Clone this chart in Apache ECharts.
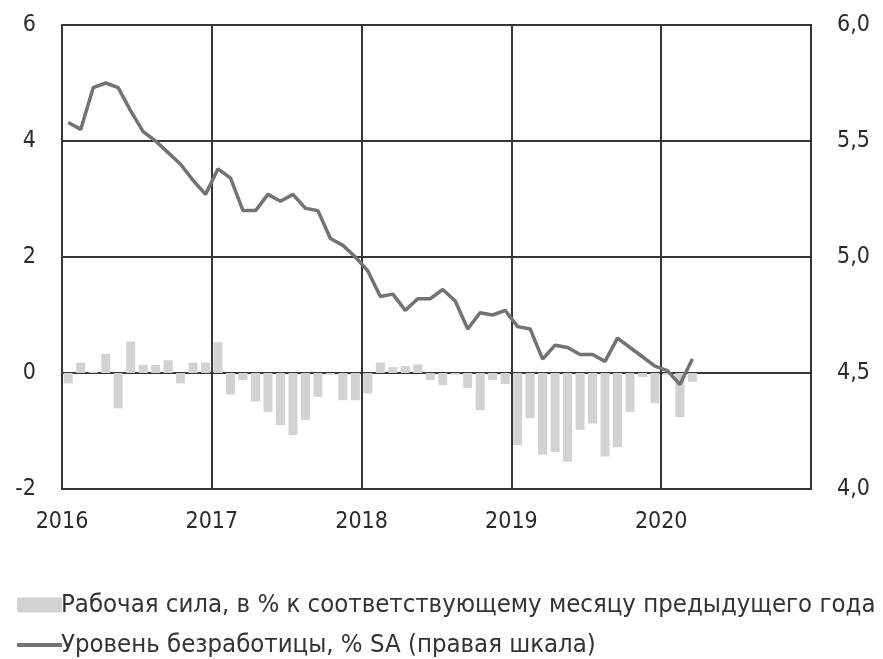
<!DOCTYPE html>
<html>
<head>
<meta charset="utf-8">
<script src="https://cdn.jsdelivr.net/npm/echarts@6/dist/echarts.min.js"></script>
<style>
  html, body { margin: 0; padding: 0; background: #fff; }
  #chart { width: 883px; height: 659px; }
</style>
</head>
<body>
<div id="chart"></div>
<script>
// Year labels placed on the boundary of each 12-month block (Jan 2016 .. Dec 2020)
const yearLabels = ['2016', '2017', '2018', '2019', '2020'];

// Labour force, % y/y, monthly from Jan 2016 to Mar 2020
const laborForce = [
  -0.18, 0.18, 0.02, 0.33, -0.61, 0.54, 0.14, 0.14, 0.22, -0.18, 0.18, 0.18,
  0.53, -0.37, -0.12, -0.49, -0.67, -0.90, -1.07, -0.81, -0.41, -0.03, -0.47, -0.47,
  -0.35, 0.18, 0.10, 0.12, 0.15, -0.12, -0.21, -0.03, -0.26, -0.64, -0.12, -0.19,
  -1.24, -0.78, -1.41, -1.36, -1.53, -0.98, -0.87, -1.44, -1.28, -0.67, -0.07, -0.52,
  -0.03, -0.76, -0.15
];

// Unemployment rate, % SA (right scale), same months
const unemployment = [
  5.58, 5.55, 5.73, 5.75, 5.73, 5.63, 5.54, 5.50, 5.45, 5.40, 5.33, 5.27,
  5.38, 5.34, 5.20, 5.20, 5.27, 5.24, 5.27, 5.21, 5.20, 5.08, 5.05, 5.00,
  4.94, 4.83, 4.84, 4.77, 4.82, 4.82, 4.86, 4.81, 4.69, 4.76, 4.75, 4.77,
  4.70, 4.69, 4.56, 4.62, 4.61, 4.58, 4.58, 4.55, 4.65, 4.61, 4.57, 4.53,
  4.51, 4.45, 4.56
];

const seriesNames = [
  'Рабочая сила, в % к соответствующему месяцу предыдущего года',
  'Уровень безработицы, % SA (правая шкала)'
];

// Each month sits in the middle of its slot on a 60-month axis
const barData = laborForce.map((v, i) => [i + 0.5, v]);
const lineData = unemployment.map((v, i) => [i + 0.5, v]);

const FONT = '"DejaVu Sans Condensed", "Liberation Sans Narrow", sans-serif';
const GRID_COLOR = '#363636';
const TEXT_COLOR = '#2a2a2a';
const BAR_COLOR = '#d2d2d2';
const LINE_COLOR = '#737373';

const legendText = { fontFamily: FONT, fontSize: 25.5, color: '#333', padding: [0, 0, 0, -6] };

const chart = echarts.init(document.getElementById('chart'), null, { renderer: 'canvas' });

chart.setOption({
  animation: false,
  textStyle: { fontFamily: FONT },
  grid: {
    left: 62, right: 72, top: 25, bottom: 170,
    show: true, borderColor: GRID_COLOR, borderWidth: 2,
    containLabel: false
  },
  legend: [
    {
      left: 12, top: 587,
      itemWidth: 45, itemHeight: 15,
      textStyle: legendText,
      data: [{ name: seriesNames[0], icon: 'rect', itemStyle: { color: BAR_COLOR } }]
    },
    {
      left: 12, top: 627,
      itemWidth: 45, itemHeight: 4,
      textStyle: legendText,
      data: [{ name: seriesNames[1], icon: 'rect', itemStyle: { color: LINE_COLOR } }]
    }
  ],
  xAxis: {
    type: 'value',
    min: 0, max: 60, interval: 12,
    axisLine: { show: false },
    axisTick: { show: false },
    splitLine: { show: true, lineStyle: { color: GRID_COLOR, width: 2 } },
    axisLabel: {
      fontFamily: FONT, fontSize: 23, color: TEXT_COLOR, margin: 22,
      formatter: v => yearLabels[v / 12] || ''
    }
  },
  yAxis: [
    {
      type: 'value',
      min: -2, max: 6, interval: 2,
      axisLine: { show: false },
      axisTick: { show: false },
      splitLine: { show: true, lineStyle: { color: GRID_COLOR, width: 2 } },
      axisLabel: { fontFamily: FONT, fontSize: 23, color: TEXT_COLOR, margin: 26 }
    },
    {
      type: 'value',
      min: 4, max: 6, interval: 0.5,
      position: 'right',
      axisLine: { show: false },
      axisTick: { show: false },
      splitLine: { show: false },
      axisLabel: {
        fontFamily: FONT, fontSize: 23, color: TEXT_COLOR, margin: 26,
        formatter: v => v.toFixed(1).replace('.', ',')
      }
    }
  ],
  series: [
    {
      name: seriesNames[0],
      type: 'bar',
      yAxisIndex: 0,
      data: barData,
      barWidth: 9,
      itemStyle: { color: BAR_COLOR },
      z: 1
    },
    {
      name: seriesNames[1],
      type: 'line',
      yAxisIndex: 1,
      data: lineData,
      symbol: 'none',
      lineStyle: { color: LINE_COLOR, width: 3.5 },
      itemStyle: { color: LINE_COLOR },
      z: 3
    }
  ]
});
</script>
</body>
</html>
